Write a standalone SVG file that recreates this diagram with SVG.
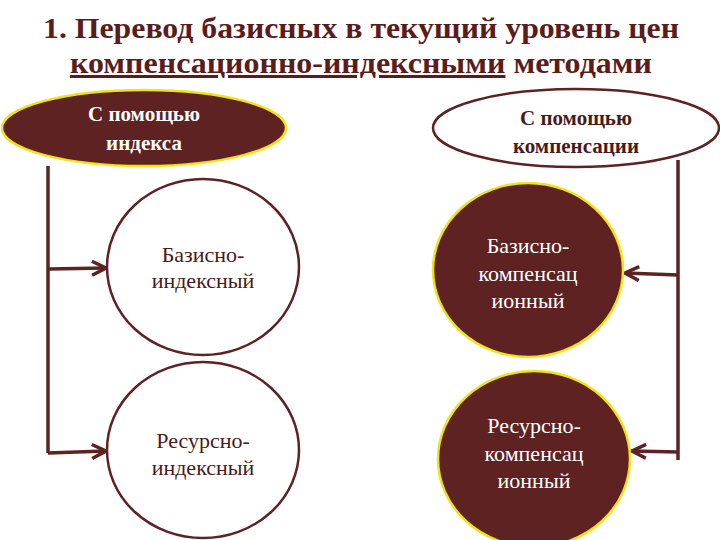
<svg xmlns="http://www.w3.org/2000/svg" width="720" height="540" viewBox="0 0 720 540">
<style>
text{font-family:'Liberation Serif','Times New Roman',serif;text-anchor:middle}
.title{font-weight:bold;font-size:30px;fill:#5a1c1c}
.hd{font-weight:bold;font-size:21px}
.lbl{font-size:22px}
.dark{fill:#5e2222;stroke:#f2e21a;stroke-width:2.5}
.light{fill:#ffffff;stroke:#5e2222;stroke-width:2.5}
.wt{fill:#ffffff}
.dt{fill:#4a1a1a}
.conn{fill:none;stroke:#5e2222;stroke-width:3.5}
</style>
<defs>
<marker id="arr" viewBox="0 0 10 10" refX="9" refY="5" markerWidth="5" markerHeight="5" orient="auto" markerUnits="strokeWidth">
<path d="M1,1 L9,5 L1,9" fill="none" stroke="#5e2222" stroke-width="2"/>
</marker>
</defs>
<rect width="720" height="540" fill="#ffffff"/>
<g id="title">
<text class="title" x="361" y="38" textLength="636" lengthAdjust="spacingAndGlyphs">1. Перевод базисных в текущий уровень цен</text>
<text class="title" x="361" y="73" textLength="582" lengthAdjust="spacingAndGlyphs"><tspan text-decoration="underline">компенсационно-индексными</tspan> методами</text>
</g>
<g id="connectors">
<polyline class="conn" points="48,166 48,453"/>
<line class="conn" x1="48" y1="269" x2="106" y2="268" marker-end="url(#arr)"/>
<line class="conn" x1="48" y1="453" x2="106" y2="451" marker-end="url(#arr)"/>
<polyline class="conn" points="678,160 678,460"/>
<line class="conn" x1="678" y1="275" x2="625" y2="273" marker-end="url(#arr)"/>
<line class="conn" x1="678" y1="452" x2="632" y2="451" marker-end="url(#arr)"/>
</g>
<g id="node-index">
<ellipse class="dark" cx="144" cy="128" rx="142" ry="38"/>
<text class="hd wt" x="144" y="121">С помощью</text>
<text class="hd wt" x="144" y="150">индекса</text>
</g>
<g id="node-comp">
<ellipse class="light" cx="576" cy="128" rx="143" ry="39"/>
<text class="hd dt" x="576" y="125">С помощью</text>
<text class="hd dt" x="576" y="153">компенсации</text>
</g>
<g id="node-bi">
<ellipse class="light" cx="203" cy="267" rx="96" ry="88"/>
<text class="lbl dt" x="203" y="262">Базисно-</text>
<text class="lbl dt" x="203" y="288">индексный</text>
</g>
<g id="node-ri">
<ellipse class="light" cx="203" cy="450" rx="96" ry="88"/>
<text class="lbl dt" x="203" y="448">Ресурсно-</text>
<text class="lbl dt" x="203" y="475">индексный</text>
</g>
<g id="node-bc">
<ellipse class="dark" cx="528" cy="270" rx="95" ry="87"/>
<text class="lbl wt" x="528" y="253">Базисно-</text>
<text class="lbl wt" x="528" y="281">компенсац</text>
<text class="lbl wt" x="528" y="308">ионный</text>
</g>
<g id="node-rc">
<ellipse class="dark" cx="534" cy="459" rx="96" ry="88"/>
<text class="lbl wt" x="534" y="433">Ресурсно-</text>
<text class="lbl wt" x="534" y="461">компенсац</text>
<text class="lbl wt" x="534" y="488">ионный</text>
</g>
</svg>
